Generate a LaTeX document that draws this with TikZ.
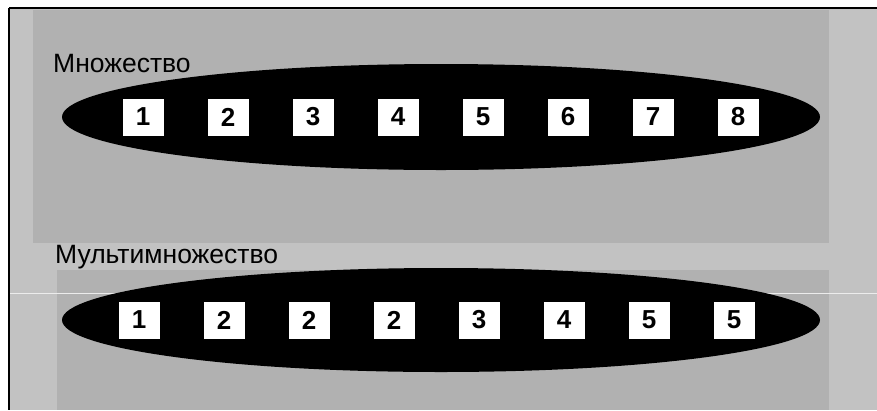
\documentclass[tikz,border=0pt]{standalone}
\usepackage{fontspec}
\setmainfont{Liberation Sans}
\usetikzlibrary{shapes.geometric}

\definecolor{plaingray}{RGB}{194,194,194}
\definecolor{texgray}{RGB}{177,177,177}

\tikzset{
  setoval/.style={ellipse, fill=black, minimum width=758pt, minimum height=106pt, inner sep=0pt},
  elembox/.style={fill=white, minimum width=41pt, minimum height=37pt, inner sep=0pt,
                  font=\fontsize{26}{26}\selectfont\bfseries},
  setlabel/.style={anchor=base west, inner sep=0pt, font=\fontsize{26.5}{26.5}\selectfont}
}

\begin{document}
\begin{tikzpicture}[x=1pt, y=-1pt]

    % Frame
    \useasboundingbox (0,0) rectangle (877,410);
    \fill[white] (0,0) rectangle (877,410);
    \fill[plaingray] (8,8) rectangle (877,410);
    \fill[texgray] (33,10) rectangle (829,243);
    \fill[texgray] (57,270) rectangle (829,410);
    \draw[line width=2pt] (9,8) -- (877,8);
    \draw[line width=2pt] (9,8) -- (9,410);
    \draw[white!85!gray, line width=0.8pt] (10,293) -- (877,293);

    % Set
    \node[setlabel] (setname) at (53,72) {Множество};
    \node[setoval] (setoval) at (441,117) {};
    \foreach \v [count=\i from 0] in {1,2,3,4,5,6,7,8}
        \node[elembox] (s\v) at (143+85*\i,117) {\v};

    % Multiset
    \node[setlabel] (msetname) at (55,263) {Мультимножество};
    \node[setoval, minimum height=104pt] (msetoval) at (441,320) {};
    \foreach \v [count=\i from 0] in {1,2,2,2,3,4,5,5}
        \node[elembox] (m\i) at (139+85*\i,320) {\v};

\end{tikzpicture}
\end{document}
